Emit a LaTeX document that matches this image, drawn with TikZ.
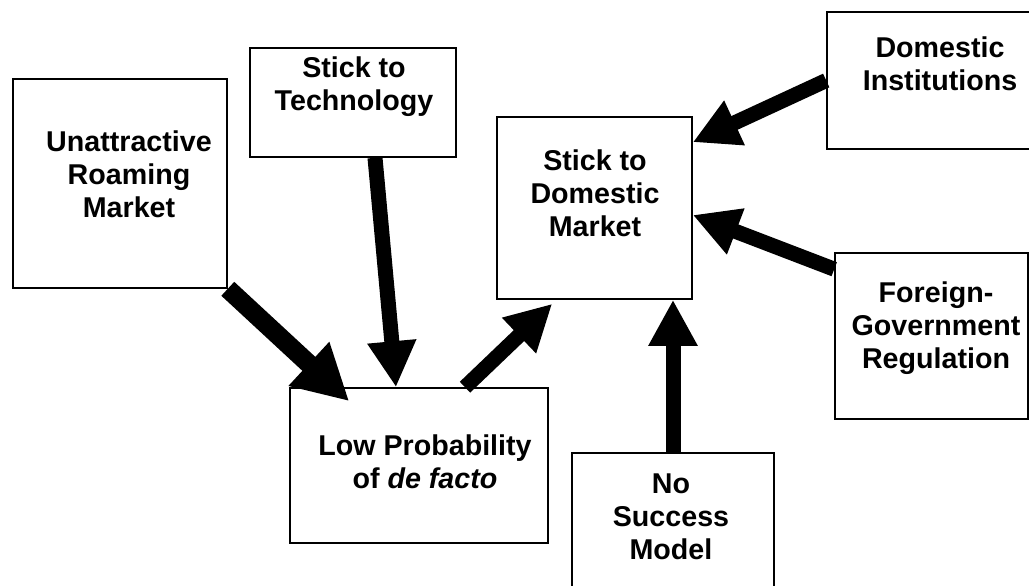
\documentclass[tikz,border=0pt]{standalone}
\usepackage{fontspec}
\setmainfont{Liberation Sans}
\usetikzlibrary{arrows.meta}

\begin{document}
\begin{tikzpicture}[
  font=\bfseries\fontsize{16.3}{18.9}\selectfont,
  box/.style={draw, line width=0.9pt, fill=white, inner sep=0pt},
  txt/.style={align=center, inner sep=0pt},
  arr/.style={-{Triangle[length=0.92cm, width=0.92cm]}, line width=0.3cm},
  bigarr/.style={-{Triangle[length=1.1cm, width=1.12cm]}, line width=0.38cm}
]
\useasboundingbox (0,0) rectangle (20.58,11.72);
% boxes
\node[box, minimum width=4.28cm, minimum height=4.18cm] (unatt) at (2.40,8.05) {};
\node[box, minimum width=4.12cm, minimum height=2.18cm] (tech) at (7.06,9.67) {};
\node[box, minimum width=3.90cm, minimum height=3.64cm] (dommkt) at (11.89,7.56) {};
\node[box, minimum width=4.52cm, minimum height=2.74cm] (domins) at (18.80,10.11) {};
\node[box, minimum width=3.86cm, minimum height=3.32cm] (foreign) at (18.63,5.00) {};
\node[box, minimum width=5.16cm, minimum height=3.10cm] (lowprob) at (8.38,2.41) {};
\node[box, minimum width=4.04cm, minimum height=2.96cm] (nosucc) at (13.46,1.18) {};
% labels, set a little above the box centres
\node[txt] (unatt-txt) at (2.58,8.24) {Unattractive\\Roaming\\Market};
\node[txt] (tech-txt) at (7.08,9.98) {Stick to\\Technology};
\node[txt] (dommkt-txt) at (11.90,7.86) {Stick to\\Domestic\\Market};
\node[txt] (domins-txt) at (18.80,10.44) {Domestic\\Institutions};
\node[txt] (foreign-txt) at (18.72,5.16) {Foreign-\\Government\\Regulation};
\node[txt] (lowprob-txt) at (8.50,2.48) {Low Probability\\of \textit{de facto}};
\node[txt] (nosucc-txt) at (13.42,1.38) {No\\Success\\Model};
% arrows
\draw[bigarr] (unatt.south east) -- ([shift={(1.2,-0.28)}]lowprob.north west);
\draw[arr] ([xshift=0.44cm]tech.south) -- ([xshift=-0.46cm]lowprob.north);
\draw[arr] ([xshift=0.92cm]lowprob.north) -- ([shift={(1.12,-0.08)}]dommkt.south west);
\draw[arr] (domins.west) -- ([yshift=-0.52cm]dommkt.north east);
\draw[arr] ([yshift=-0.34cm]foreign.north west) -- ([yshift=-0.14cm]dommkt.east);
\draw[arr] (nosucc.north) -- (nosucc.north |- dommkt.south);
\end{tikzpicture}
\end{document}
